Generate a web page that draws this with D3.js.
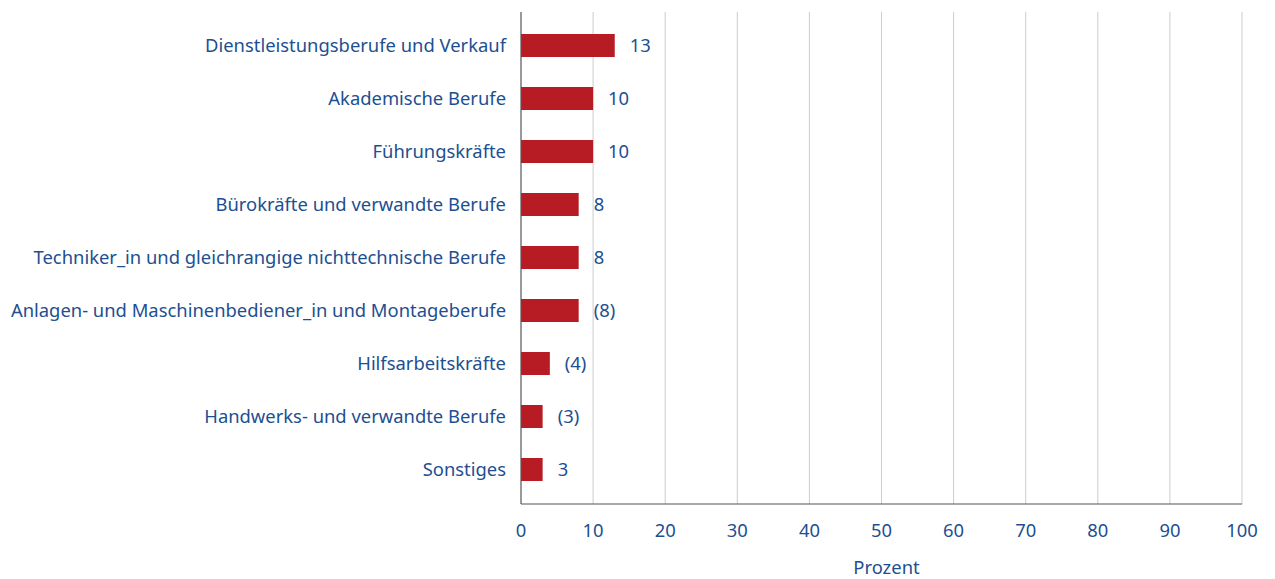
<!DOCTYPE html>
<html>
<head>
<meta charset="utf-8">
<script src="https://cdn.jsdelivr.net/npm/d3@7"></script>
<style>
  body { margin: 0; background: #fff; }
  text { font-family: "Noto Sans", sans-serif; }
</style>
</head>
<body>
<script>
var categories = [
  "Dienstleistungsberufe und Verkauf",
  "Akademische Berufe",
  "Führungskräfte",
  "Bürokräfte und verwandte Berufe",
  "Techniker_in und gleichrangige nichttechnische Berufe",
  "Anlagen- und Maschinenbediener_in und Montageberufe",
  "Hilfsarbeitskräfte",
  "Handwerks- und verwandte Berufe",
  "Sonstiges"
];
var values = [13, 10, 10, 8, 8, 8, 4, 3, 3];
var valueLabels = ["13", "10", "10", "8", "8", "(8)", "(4)", "(3)", "3"];
var xTicks = [0, 10, 20, 30, 40, 50, 60, 70, 80, 90, 100];

var w = 1275;
var h = 579;
var plotLeft = 521, plotRight = 1242, plotTop = 12, plotBottom = 504;
var blue = "#1d4f91";
var fontSize = "18.4px";

var svg = d3.select("body")
  .append("svg")
  .attr("width", w)
  .attr("height", h);

var x = d3.scaleLinear().domain([0, 100]).range([plotLeft, plotRight]);
var y = d3.scaleBand().domain(categories).range([plotTop + 7, plotBottom - 8]).paddingInner(0.566).paddingOuter(0.283);

// grid
svg.selectAll("line.grid")
  .data(xTicks.slice(1))
  .enter()
  .append("line")
  .attr("class", "grid")
  .attr("x1", function(d) { return x(d); })
  .attr("x2", function(d) { return x(d); })
  .attr("y1", plotTop)
  .attr("y2", plotBottom)
  .attr("stroke", "#cccccc")
  .attr("stroke-width", 1);

svg.selectAll("rect")
  .data(values)
  .enter()
  .append("rect")
  .attr("x", x(0))
  .attr("y", function(d, i) { return y(categories[i]); })
  .attr("width", function(d) { return x(d) - x(0); })
  .attr("height", y.bandwidth())
  .attr("fill", "#b71c25");

// axes lines
svg.append("line")
  .attr("x1", x(0)).attr("x2", x(0))
  .attr("y1", plotTop).attr("y2", plotBottom)
  .attr("stroke", "#555").attr("stroke-width", 1.2);
svg.append("line")
  .attr("x1", x(0)).attr("x2", x(100))
  .attr("y1", plotBottom).attr("y2", plotBottom)
  .attr("stroke", "#555").attr("stroke-width", 1.2);

svg.selectAll("text.cat")
  .data(categories)
  .enter()
  .append("text")
  .attr("class", "cat")
  .text(function(d) { return d; })
  .attr("x", x(0) - 15)
  .attr("y", function(d) { return y(d) + y.bandwidth() / 2; })
  .attr("dy", "0.35em")
  .attr("text-anchor", "end")
  .attr("font-size", fontSize)
  .attr("fill", blue);

svg.selectAll("text.val")
  .data(values)
  .enter()
  .append("text")
  .attr("class", "val")
  .text(function(d, i) { return valueLabels[i]; })
  .attr("x", function(d) { return x(d) + 15; })
  .attr("y", function(d, i) { return y(categories[i]) + y.bandwidth() / 2; })
  .attr("dy", "0.35em")
  .attr("font-size", fontSize)
  .attr("fill", blue);

svg.selectAll("text.tick")
  .data(xTicks)
  .enter()
  .append("text")
  .attr("class", "tick")
  .text(function(d) { return d; })
  .attr("x", function(d) { return x(d); })
  .attr("y", 531)
  .attr("dy", "0.35em")
  .attr("text-anchor", "middle")
  .attr("font-size", fontSize)
  .attr("fill", blue);

svg.append("text")
  .text("Prozent")
  .attr("x", (plotLeft + plotRight) / 2 + 5)
  .attr("y", 568)
  .attr("dy", "0.35em")
  .attr("text-anchor", "middle")
  .attr("font-size", fontSize)
  .attr("fill", blue);
</script>
</body>
</html>
